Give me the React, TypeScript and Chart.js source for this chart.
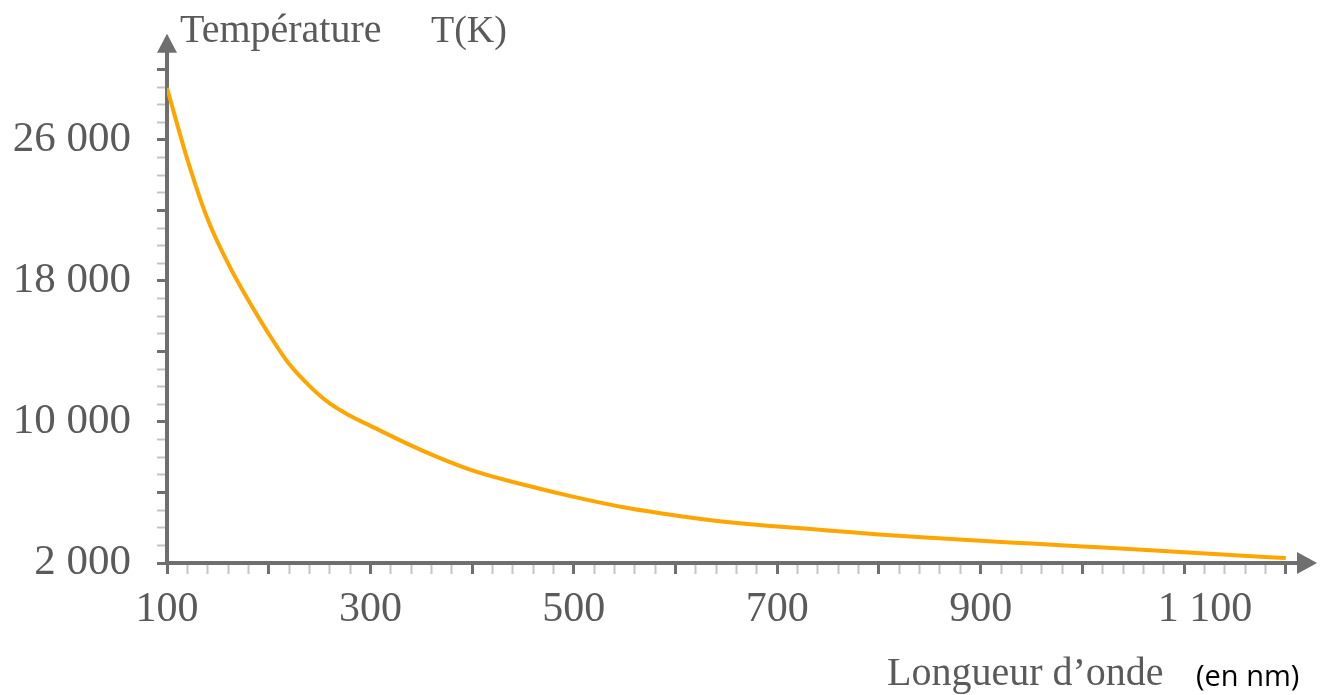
import React, { useEffect, useRef } from "react";
import { Chart, registerables } from "chart.js";

Chart.register(...registerables);

// Wavelength (nm) and temperature (K)
const wavelengths = [100, 120, 140, 160, 180, 200, 220, 240, 260, 280, 300, 350, 400, 450, 500, 550, 600, 650, 700, 750, 800, 850, 900, 950, 1000, 1050, 1100, 1150, 1200];
const temperatures = [28950, 24900, 21500, 19000, 16900, 15000, 13300, 12050, 11050, 10350, 9780, 8400, 7250, 6450, 5750, 5150, 4700, 4330, 4070, 3850, 3620, 3430, 3260, 3100, 2940, 2780, 2610, 2440, 2280];

const xLabelValues = [100, 300, 500, 700, 900, 1100];
const xLabelTexts = ["100", "300", "500", "700", "900", "    1 100"];
const yLabelValues = [2000, 10000, 18000, 26000];
const yLabelTexts = ["2 000", "10 000", "18 000", "26 000"];

const yTitle1 = "Température";
const yTitle2 = "T(K)";
const xTitle = "Longueur d’onde";
const xUnit = "(en nm)";

const AXIS = "#6f6f6f";
const MINOR = "#c4c4c4";
const TEXT = "#5a5a5a";
const CURVE = "#FFA500";
const SERIF = "'Liberation Serif', 'DejaVu Serif', serif";

const decorPlugin = {
  id: "decor",
  afterDraw(chart: any) {
    const { ctx, chartArea } = chart;
    const x0 = chartArea.left;
    const y0 = chartArea.bottom;
    ctx.save();
    ctx.fillStyle = AXIS;
    // y arrow
    ctx.beginPath();
    ctx.moveTo(x0, chartArea.top - 18);
    ctx.lineTo(x0 - 10, chartArea.top + 1);
    ctx.lineTo(x0 + 10, chartArea.top + 1);
    ctx.closePath();
    ctx.fill();
    // x arrow
    ctx.beginPath();
    ctx.moveTo(chartArea.right + 19, y0);
    ctx.lineTo(chartArea.right - 1, y0 - 11);
    ctx.lineTo(chartArea.right - 1, y0 + 11);
    ctx.closePath();
    ctx.fill();
    // titles
    ctx.fillStyle = TEXT;
    ctx.textBaseline = "alphabetic";
    ctx.textAlign = "left";
    ctx.font = `40px ${SERIF}`;
    ctx.fillText(yTitle1, x0 + 13, 42);
    ctx.fillText(xTitle, 887, 685);
    ctx.font = `38px ${SERIF}`;
    ctx.fillText(yTitle2, x0 + 264, 42);
    ctx.fillStyle = "#000000";
    ctx.font = "29px 'Open Sans', 'Noto Sans', sans-serif";
    ctx.fillText(xUnit, 1196, 686);
    ctx.restore();
  },
};

export default function App() {
  const ref = useRef<HTMLCanvasElement>(null);
  useEffect(() => {
    const canvas = ref.current!;
    const chart = new Chart(canvas, {
      type: "line",
      data: {
        datasets: [
          {
            data: wavelengths.map((w, i) => ({ x: w, y: temperatures[i] })),
            borderColor: CURVE,
            borderWidth: 4,
            pointRadius: 0,
            cubicInterpolationMode: "monotone",
            fill: false,
          },
        ],
      },
      options: {
        animation: false,
        responsive: false,
        devicePixelRatio: 1,
        layout: { padding: { top: 43, right: 26, left: 0, bottom: 0 } },
        plugins: { legend: { display: false }, tooltip: { enabled: false } },
        scales: {
          x: {
            type: "linear",
            min: 100,
            max: 1212,
            afterBuildTicks(scale: any) {
              const t = [];
              for (let v = 100; v <= 1200; v += 20) t.push({ value: v });
              scale.ticks = t;
            },
            afterFit(scale: any) {
              scale.height = 132;
            },
            border: { display: true, color: AXIS, width: 4 },
            grid: {
              drawOnChartArea: false,
              drawTicks: true,
              tickLength: 11,
              tickColor: (c: any) => (c.tick && c.tick.value % 100 === 0 ? AXIS : MINOR),
              tickWidth: (c: any) => (c.tick && c.tick.value % 100 === 0 ? 3 : 2),
            },
            ticks: {
              autoSkip: false,
              maxRotation: 0,
              padding: 11,
              color: TEXT,
              font: { family: SERIF, size: 42 },
              callback: (v: any) => {
                const i = xLabelValues.indexOf(Number(v));
                return i >= 0 ? xLabelTexts[i] : "";
              },
            },
          },
          y: {
            type: "linear",
            min: 2000,
            max: 31000,
            afterBuildTicks(scale: any) {
              const t = [];
              for (let v = 2000; v <= 30000; v += 1000) t.push({ value: v });
              scale.ticks = t;
            },
            afterFit(scale: any) {
              scale.width = 167;
            },
            border: { display: true, color: AXIS, width: 4 },
            grid: {
              drawOnChartArea: false,
              drawTicks: true,
              tickLength: 10,
              tickColor: (c: any) => (c.tick && (c.tick.value - 2000) % 4000 === 0 ? AXIS : MINOR),
              tickWidth: (c: any) => (c.tick && (c.tick.value - 2000) % 4000 === 0 ? 3 : 2),
            },
            ticks: {
              autoSkip: false,
              padding: 26,
              color: TEXT,
              font: { family: SERIF, size: 43 },
              callback: (v: any) => {
                const i = yLabelValues.indexOf(Number(v));
                return i >= 0 ? yLabelTexts[i] : "";
              },
            },
          },
        },
      },
      plugins: [decorPlugin],
    } as any);
    return () => chart.destroy();
  }, []);
  return (
    <div style={{ position: "absolute", left: 0, top: 0, width: 1324, height: 695, background: "#fff" }}>
      <canvas ref={ref} width={1324} height={695} style={{ display: "block", width: 1324, height: 695 }} />
    </div>
  );
}
